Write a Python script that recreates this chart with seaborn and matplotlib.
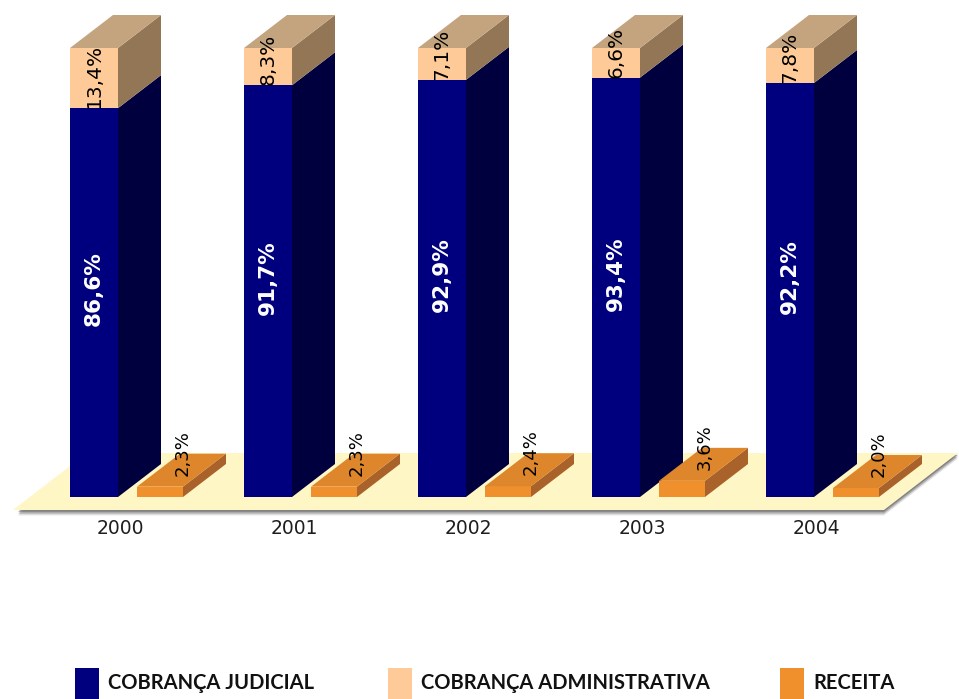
import matplotlib
matplotlib.use('Agg')
import matplotlib.pyplot as plt
import seaborn as sns
import numpy as np
from matplotlib.patches import Polygon, Rectangle

# Data (percent)
years = ['2000', '2001', '2002', '2003', '2004']
judicial = [86.6, 91.7, 92.9, 93.4, 92.2]
administrativa = [13.4, 8.3, 7.1, 6.6, 7.8]
receita = [2.3, 2.3, 2.4, 3.6, 2.0]
legend_names = ['COBRANÇA JUDICIAL', 'COBRANÇA ADMINISTRATIVA', 'RECEITA']

# Colours
NAVY, NAVY_SIDE = '#00007F', '#00003E'
PEACH, PEACH_TOP, PEACH_SIDE = '#FECB98', '#C4A47F', '#937656'
ORANGE, ORANGE_TOP, ORANGE_SIDE = '#F0902C', '#DD862C', '#A9622A'
FLOOR = '#FFF6C6'

sns.set_theme(style='white')
plt.rcParams['font.family'] = ['Lato', 'DejaVu Sans']
LABEL_FONT = ['DejaVu Sans']

W, H = 959, 699
fig = plt.figure(figsize=(W / 100, H / 100), dpi=100)
ax = fig.add_axes([0, 0, 1, 1])

# geometry (pixels -> data units)
PX0, STEP = 94, 174          # first bar centre, category spacing
Y0, PPU = 497, 4.49          # baseline row, pixels per percent
BW = 48 / STEP               # bar width
ROFF, RW = 66 / STEP, 46 / STEP
DX, DY = 43 / STEP, 33 / PPU  # 3D depth

pos = np.arange(len(years))
totals = [j + a for j, a in zip(judicial, administrativa)]
fmt = lambda v: f'{v:.1f}%'.replace('.', ',')


def bars(x, y, color, width, z):
    n = len(ax.patches)
    sns.barplot(x=x, y=y, native_scale=True, width=width, color=color,
                saturation=1, errorbar=None, linewidth=0, ax=ax)
    for p in ax.patches[n:]:
        p.set_zorder(z)


bars(pos, totals, PEACH, BW, 3)
bars(pos, judicial, NAVY, BW, 3.1)
bars(pos + ROFF, receita, ORANGE, RW, 5)

# floor with soft shadow
fl, fr = pos[0] - 0.466, pos[-1] + 0.54
fy0, fdx, fdy = -13 / PPU, 74 / STEP, 57 / PPU
for k, (c, a) in enumerate([('#d8d8d8', 0.8), ('#a0a0a0', 0.8), ('#707070', 0.7)]):
    off = (3 - k) * 1.8 / PPU
    ax.add_patch(Polygon([(fl + 0.03, fy0 - off), (fr, fy0 - off),
                          (fr + fdx, fy0 + fdy - off), (fl + fdx, fy0 + fdy - off)],
                         closed=True, color=c, alpha=a, lw=0, zorder=1))
ax.add_patch(Polygon([(fl, fy0), (fr, fy0), (fr + fdx, fy0 + fdy), (fl + fdx, fy0 + fdy)],
                     closed=True, color=FLOOR, lw=0, zorder=1.5))

# 3D faces
for p, j, t, r in zip(pos, judicial, totals, receita):
    x1 = p + BW / 2
    ax.add_patch(Polygon([(x1, 0), (x1 + DX, DY), (x1 + DX, j + DY), (x1, j)],
                         color=NAVY_SIDE, lw=0, zorder=3))
    ax.add_patch(Polygon([(x1, j), (x1 + DX, j + DY), (x1 + DX, t + DY), (x1, t)],
                         color=PEACH_SIDE, lw=0, zorder=3))
    ax.add_patch(Polygon([(x1 - BW, t), (x1, t), (x1 + DX, t + DY), (x1 - BW + DX, t + DY)],
                         color=PEACH_TOP, lw=0, zorder=3))
    rx1 = p + ROFF + RW / 2
    ax.add_patch(Polygon([(rx1, 0), (rx1 + DX, DY), (rx1 + DX, r + DY), (rx1, r)],
                         color=ORANGE_SIDE, lw=0, zorder=5))
    ax.add_patch(Polygon([(rx1 - RW, r), (rx1, r), (rx1 + DX, r + DY), (rx1 - RW + DX, r + DY)],
                         color=ORANGE_TOP, lw=0, zorder=5))

# value labels
for p, j, a, r, yr in zip(pos, judicial, administrativa, receita, years):
    ax.text(p, j / 2 + 3, fmt(j), rotation=90, ha='center', va='center',
            color='white', fontsize=15.5, fontweight='bold', family=LABEL_FONT, zorder=10)
    ax.text(p, j, fmt(a), rotation=90, ha='center', va='bottom',
            color='black', fontsize=14.5, family=LABEL_FONT, zorder=10)
    ax.text(p + ROFF + 0.13, r + 2.4, fmt(r), rotation=90, ha='center', va='bottom',
            color='black', fontsize=13, family=LABEL_FONT, zorder=10)
    ax.text(p + 0.15, -7.1, yr, ha='center', va='center', color='#1e1e1e',
            fontsize=13.5, family=LABEL_FONT, zorder=10)

ax.set_xlim(-PX0 / STEP, (W - PX0) / STEP)
ax.set_ylim(-(H - Y0) / PPU, Y0 / PPU)
ax.axis('off')

# legend
for name, c, sx in zip(legend_names, [NAVY, PEACH, ORANGE], [75, 388, 780]):
    fig.add_artist(Rectangle((sx / W, 0), 24 / W, 31 / H, color=c, lw=0,
                             transform=fig.transFigure))
    fig.text((sx + 33) / W, (H - 683) / H, name, ha='left', va='center',
             fontsize=14.5, fontweight='bold', color='#111111')

fig.savefig('out.png', dpi=100)
